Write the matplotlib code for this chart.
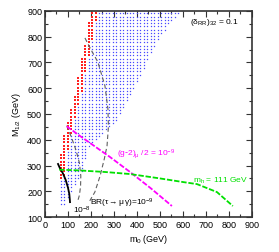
import numpy as np
import matplotlib
matplotlib.use('Agg')
import matplotlib.pyplot as plt
from matplotlib.path import Path
from matplotlib.ticker import MultipleLocator

plt.rcParams['font.family'] = ['Liberation Sans', 'DejaVu Sans']
plt.rcParams['mathtext.default'] = 'regular'

# allowed region (blue) and the strip along its left edge (red)
blue_m0 = [58, 58, 62, 70, 87, 105, 122, 139, 152, 165, 183, 205, 600, 513, 435, 413, 370, 340, 313, 270, 239, 196, 187, 165, 139, 100, 80]
blue_M = [145, 235, 240, 320, 400, 470, 531, 585, 648, 713, 780, 905, 905, 818, 686, 636, 570, 520, 480, 440, 415, 376, 364, 286, 236, 170, 145]
red_m0 = [56, 64, 81, 99, 116, 133, 146, 159, 177, 199, 228, 205, 187, 174, 161, 144, 127, 109, 92, 82]
red_M = [240, 320, 400, 470, 531, 585, 648, 713, 780, 905, 905, 780, 713, 648, 585, 531, 470, 400, 320, 240]

# scan points of the parameter grid
scan_m0 = np.arange(10, 900, 15)
scan_M = np.arange(140, 905, 12.5)

# contours
black_m0 = [57, 65, 78, 90, 100, 106, 108, 109]
black_M = [306, 290, 270, 245, 215, 190, 170, 158]
br8_m0 = [95, 115, 135, 150, 156, 155, 150, 142]
br8_M = [455, 410, 360, 310, 260, 220, 185, 160]
br9_m0 = [174, 200, 230, 261, 274, 276, 270, 258, 240, 217, 195]
br9_M = [795, 750, 702, 609, 519, 450, 376, 325, 260, 197, 163]
g2_m0 = [95, 152, 283, 370, 460, 552]
g2_M = [452, 415, 333, 275, 212, 143]
mh_m0 = [62, 150, 261, 370, 500, 600, 661, 748, 817]
mh_M = [284, 281, 275, 267, 250, 236, 228, 197, 143]

fig = plt.figure(figsize=(2.79, 2.53), dpi=100)
ax = fig.add_axes([0.161, 0.138, 0.742, 0.815])

gx, gy = np.meshgrid(scan_m0, scan_M)
pts = np.column_stack([gx.ravel(), gy.ravel()])
in_blue = Path(np.column_stack([blue_m0, blue_M])).contains_points(pts)
in_red = Path(np.column_stack([red_m0, red_M])).contains_points(pts)
b = pts[in_blue & ~in_red]
r = pts[in_red]
ax.plot(b[:, 0], b[:, 1], 's', ms=0.9, mew=0, color='#4848ff')
ax.plot(r[:, 0], r[:, 1], 's', ms=1.5, mew=0, color='#ff2020')

ax.plot(black_m0, black_M, color='black', lw=1.3)
ax.plot(br8_m0, br8_M, color='#606060', lw=0.8, ls=(0, (4, 2.5)))
ax.plot(br9_m0, br9_M, color='#606060', lw=0.8, ls=(0, (4, 2.5)))
ax.plot(g2_m0, g2_M, color='#ff00ff', lw=1.3, ls=(0, (3, 1)))
ax.plot(mh_m0, mh_M, color='#00e000', lw=1.3, ls=(0, (3, 1)))

fs = 6
ax.text(630, 857, r'$(\delta_{RR})_{32}$ = 0.1', fontsize=fs, va='center')
ax.text(313, 348, r'$(g\text{-}2)_{\mu}$ /2 = 10$^{-9}$', fontsize=fs, color='#ff00ff', va='center')
ax.text(643, 246, r'$m_h$ = 111 GeV', fontsize=fs, color='#00e000', va='center')
ax.text(198, 158, r'BR($\tau\!\rightarrow\mu\,\gamma$)=10$^{-9}$', fontsize=fs, va='center')
ax.text(122, 131, r'10$^{-8}$', fontsize=fs, va='center')

ax.set_xlim(0, 900)
ax.set_ylim(100, 900)
ax.xaxis.set_major_locator(MultipleLocator(100))
ax.xaxis.set_minor_locator(MultipleLocator(50))
ax.yaxis.set_major_locator(MultipleLocator(100))
ax.yaxis.set_minor_locator(MultipleLocator(50))
ax.tick_params(which='both', direction='in', top=True, right=True, labelsize=6.5, width=0.8, color='#333333', pad=2)
ax.tick_params(which='major', length=4)
ax.tick_params(which='minor', length=2)
for s in ax.spines.values():
    s.set_linewidth(1.2)
    s.set_color('#333333')
ax.set_xlabel(r'$m_0$ (GeV)', fontsize=6.5, labelpad=2)
ax.set_ylabel(r'$M_{1/2}$ (GeV)', fontsize=6.5, labelpad=3)

plt.savefig('out.png', dpi=100)
plt.close()
